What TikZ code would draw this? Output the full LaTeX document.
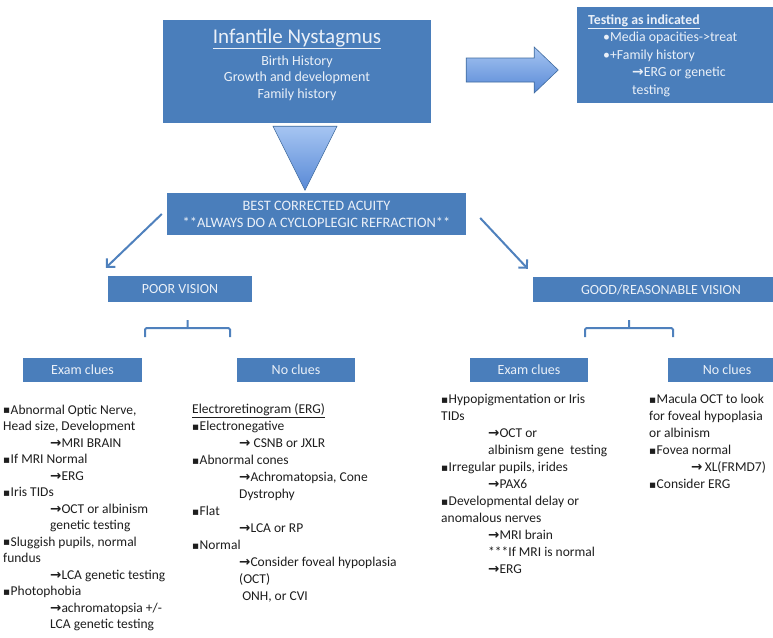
\documentclass[tikz,border=0pt]{standalone}
\usepackage{fontspec}
\setmainfont{Carlito}
\newfontfamily\symfont{DejaVu Sans}
\usepackage{tikz}
\usetikzlibrary{arrows.meta,calc,positioning}
\definecolor{boxblue}{HTML}{4A7EBB}
\definecolor{linkblue}{HTML}{4F81BD}
\definecolor{arrowtop}{HTML}{A6C5F2}
\definecolor{arrowbottom}{HTML}{5889D6}
\definecolor{boxtext}{HTML}{EAF0F8}
\definecolor{listtext}{HTML}{1E1E1E}
\tikzset{
  bluebox/.style={fill=boxblue,draw=none,text=boxtext,align=center,inner sep=0pt,font=\fontsize{14}{17}\selectfont},
  boxlabel/.style={text=boxtext,align=center,inner sep=0pt,font=\fontsize{14}{16.5}\selectfont},
  cluelist/.style={anchor=north west,inner sep=0pt,align=left,text=listtext,font=\fontsize{13.5}{17}\selectfont},
  blockarrow/.style={draw=boxblue!85!black,line width=0.6pt,top color=arrowtop,bottom color=arrowbottom},
  diagarrow/.style={-{Straight Barb[length=6pt,width=12pt]},line width=2pt,linkblue},
  bracket/.style={line width=2pt,linkblue,rounded corners=1.5pt}
}
\newcommand{\sqbul}{\makebox[7.5pt][l]{\symfont\fontsize{10.5}{10.5}\selectfont\raisebox{0.6pt}{▪}}}
\newcommand{\toarr}{{\symfont\bfseries →}}
\newcommand{\listindent}{\hspace*{47pt}}

\begin{document}
\begin{tikzpicture}[x=1pt,y=-1pt]
  \fill[white] (0,0) rectangle (773,637);
  \useasboundingbox (0,0) rectangle (773,637);
  % top row
  \node[bluebox,minimum width=268pt,minimum height=103pt] (nyst) at (297,71.5) {};
  \node[boxlabel,font=\fontsize{21}{25}\selectfont] (nysttitle) at (297,39) {\underline{Infantile Nystagmus}};
  \node[boxlabel,below=6pt of nysttitle] (nystbody) {Birth History\\Growth and development\\Family history};
  \node[bluebox,minimum width=210pt,minimum height=96pt] (testing) at (682,55) {};
  \node[cluelist,text=boxtext,font=\fontsize{13.8}{17.5}\selectfont] (testingtext) at (588,11.6)
    {\strut\underline{\textbf{Testing as indicated}}\\
     \hspace*{15pt}•Media opacities->treat\\
     \hspace*{15pt}•+Family history\\
     \hspace*{44pt}\toarr ERG or genetic\\
     \hspace*{44pt}testing};
  \draw[blockarrow] ($(nyst.east)+(35,-13.5)$) -- ++(68,0) -- ++(0,-11) -- ++(24,23)
    -- ++(-24,23) -- ++(0,-11) -- ++(-68,0) -- cycle;
  \draw[blockarrow] ($(nyst.south)+(-24,3)$) -- ++(64,0) -- ++(-32,64) -- cycle;
  % acuity and the two branches
  \node[bluebox,minimum width=299pt,minimum height=42pt,font=\fontsize{14.4}{17}\selectfont] (acuity) at (316.5,214)
    {BEST CORRECTED ACUITY\\**ALWAYS DO A CYCLOPLEGIC REFRACTION**};
  \node[bluebox,minimum width=144pt,minimum height=26pt] (poor) at (180,289) {POOR VISION};
  \node[bluebox,minimum width=256pt,minimum height=25pt] (good) at (661,289.5) {GOOD/REASONABLE VISION};
  \draw[diagarrow] ([xshift=-5pt]acuity.west) -- ([xshift=-2pt,yshift=8pt]poor.north west);
  \draw[diagarrow] ([xshift=14pt,yshift=-4pt]acuity.east) -- ([xshift=-5pt,yshift=8pt]good.north west);
  \draw[bracket] (145,337) -- (145,328) -- (230,328) -- (230,337) (187.5,328) -- (187.5,320);
  \draw[bracket] (585,337) -- (585,328) -- (673,328) -- (673,337) (629,328) -- (629,320);
  % clue boxes
  \node[bluebox,minimum width=119pt,minimum height=24pt] (examleft) at (82.5,370) {Exam clues};
  \node[bluebox,minimum width=118pt,minimum height=24pt] (noclueleft) at (296,370) {No clues};
  \node[bluebox,minimum width=118pt,minimum height=24pt] (examright) at (529,370) {Exam clues};
  \node[bluebox,minimum width=118pt,minimum height=24pt] (noclueright) at (727,370) {No clues};
  % clue lists
  \node[cluelist,font=\fontsize{13.5}{16.5}\selectfont] (examleftlist) at (3,402.6)
    {\strut\sqbul Abnormal Optic Nerve,\\
     Head size, Development\\
     \listindent\toarr MRI BRAIN\\
     \sqbul If MRI Normal\\
     \listindent\toarr ERG\\
     \sqbul Iris TIDs\\
     \listindent\toarr OCT or albinism\\
     \listindent genetic testing\\
     \sqbul Sluggish pupils, normal\\
     fundus\\
     \listindent\toarr LCA genetic testing\\
     \sqbul Photophobia\\
     \listindent\toarr achromatopsia +/-\\
     \listindent LCA genetic testing};
  \node[cluelist] (noclueleftlist) at (192,401.6)
    {\strut\underline{Electroretinogram (ERG)}\\
     \sqbul Electronegative\\
     \listindent\toarr\ CSNB or JXLR\\
     \sqbul Abnormal cones\\
     \listindent\toarr Achromatopsia, Cone\\
     \listindent Dystrophy\\
     \sqbul Flat\\
     \listindent\toarr LCA or RP\\
     \sqbul Normal\\
     \listindent\toarr Consider foveal hypoplasia\\
     \listindent (OCT)\\
     \listindent\ ONH, or CVI};
  \node[cluelist] (examrightlist) at (441,391.6)
    {\strut\sqbul Hypopigmentation or Iris\\
     TIDs\\
     \listindent\toarr OCT or\\
     \listindent albinism gene\ \ testing\\
     \sqbul Irregular pupils, irides\\
     \listindent\toarr PAX6\\
     \sqbul Developmental delay or\\
     anomalous nerves\\
     \listindent\toarr MRI brain\\
     \listindent ***If MRI is normal\\
     \listindent\toarr ERG};
  \node[cluelist] (noclueright list) at (649,391.6)
    {\strut\sqbul Macula OCT to look\\
     for foveal hypoplasia\\
     or albinism\\
     \sqbul Fovea normal\\
     \hspace*{42pt}\toarr\,XL(FRMD7)\\
     \sqbul Consider ERG};
\end{tikzpicture}
\end{document}
